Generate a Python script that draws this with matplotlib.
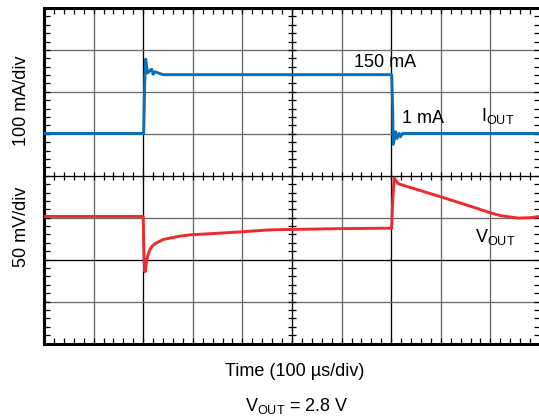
import numpy as np
import matplotlib
matplotlib.use("Agg")
import matplotlib.pyplot as plt
from matplotlib.ticker import MultipleLocator

plt.rcParams['font.family'] = ['Liberation Sans', 'DejaVu Sans']
plt.rcParams['mathtext.fontset'] = 'custom'
plt.rcParams['mathtext.rm'] = 'Liberation Sans'
plt.rcParams['mathtext.it'] = 'Liberation Sans'

# ---- data (time in µs, current in mA, voltage deviation in mV) ----
i_time = [0, 201, 203, 205, 207, 209, 213, 217, 220, 224, 228, 240, 500,
          701, 703, 704, 707, 709, 712, 716, 719, 723, 1000]
i_out = [1, 1, 120, 178, 160, 145, 150, 154, 142, 148, 146, 141, 141,
         141, 60, -25, -10, 5, -11, 1, -7, 1, 1]

v_time = [0, 200, 201, 202.5, 203.6, 205, 207, 210, 213.7, 218, 223.8, 240,
          274, 294, 381, 456, 502, 603, 701, 703, 706, 714, 802, 850, 899,
          920, 956, 980, 1000]
v_out = [1.5, 1.5, -30, -60, -64.5, -60, -51, -44, -38, -34, -31, -26,
         -22, -20.5, -17.5, -14.5, -14, -13, -12.5, 20, 47.5, 40.5, 24.5,
         15.5, 6, 2.5, -0.5, 0, 1.5]

time_per_div = 100   # µs/div
i_per_div = 100      # mA/div
v_per_div = 50       # mV/div
i_zero_div = 5
v_zero_div = 3

fig = plt.figure(figsize=(5.39, 4.18), dpi=100)
ax = fig.add_axes([44/539, (418-343.5)/418, 496/539, 335.5/418])
ax.set_xlim(0, 10)
ax.set_ylim(0, 8)

# grid
black_x = [2, 5, 7]
black_y = [2, 4]
for gx in range(1, 10):
    ax.axvline(gx, color='black' if gx in black_x else '#6a6a6a', lw=0.95, zorder=1)
for gy in range(1, 8):
    ax.axhline(gy, color='black' if gy in black_y else '#6a6a6a', lw=0.95, zorder=1)

# center-line ticks
cx = np.arange(0, 10.001, 0.2)
ax.plot(cx, np.full_like(cx, 4), ls='none', marker='|', ms=6, mew=0.9, color='black', zorder=1)
cy = np.arange(0, 8.001, 0.2)
ax.plot(np.full_like(cy, 5), cy, ls='none', marker='_', ms=6, mew=0.9, color='black', zorder=1)

# traces
it = np.array(i_time) / time_per_div
iy = i_zero_div + np.array(i_out) / i_per_div
vt = np.array(v_time) / time_per_div
vy = v_zero_div + np.array(v_out) / v_per_div
ax.plot(it, iy, color='#0a6fb8', lw=2.1, zorder=3, solid_joinstyle='round')
ax.plot(vt, vy, color='#ee2a2e', lw=2.1, zorder=3, solid_joinstyle='round')

# border ticks
ax.xaxis.set_major_locator(MultipleLocator(1))
ax.xaxis.set_minor_locator(MultipleLocator(0.2))
ax.yaxis.set_major_locator(MultipleLocator(1))
ax.yaxis.set_minor_locator(MultipleLocator(0.2))
ax.tick_params(which='both', direction='in', top=True, right=True,
               bottom=True, left=True, labelbottom=False, labelleft=False,
               length=4, width=0.9, color='black')
for s in ax.spines.values():
    s.set_linewidth(2.2)
    s.set_color('black')

fs = 13
ax.text(6.87, 6.71, '150 mA', ha='center', va='center', fontsize=fs)
ax.text(7.65, 5.37, '1 mA', ha='center', va='center', fontsize=fs)
ax.text(8.82, 5.42, r'$\mathrm{I}_{\mathrm{OUT}}$', ha='left', va='center', fontsize=fs)
ax.text(8.69, 2.55, r'$\mathrm{V}_{\mathrm{OUT}}$', ha='left', va='center', fontsize=fs)

fig.text(22/539, 1-101/418, '100 mA/div', rotation=90, ha='center', va='center', fontsize=fs)
fig.text(22/539, 1-227/418, '50 mV/div', rotation=90, ha='center', va='center', fontsize=fs)
fig.text(294.5/539, 1-372/418, 'Time (100 µs/div)', ha='center', va='center', fontsize=fs)
fig.text(297/539, 1-406/418, r'$\mathrm{V}_{\mathrm{OUT}}$ = 2.8 V', ha='center', va='center', fontsize=fs)

fig.savefig('out.png', dpi=100)
